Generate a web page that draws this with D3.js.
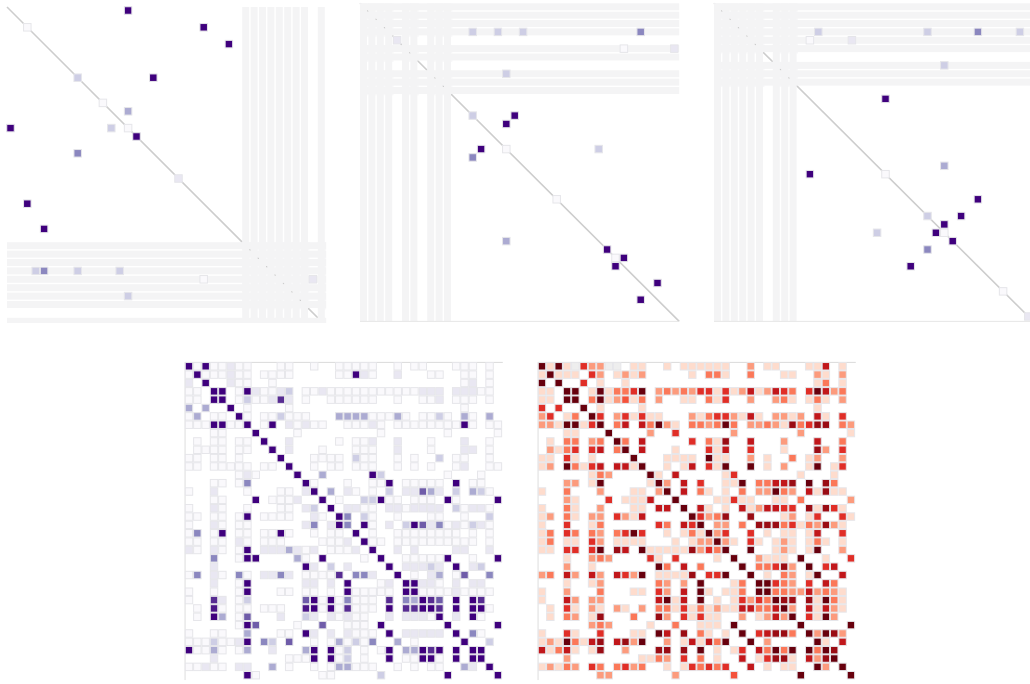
<!DOCTYPE html>
<html>
<head>
<meta charset="utf-8">
<script src="https://cdn.jsdelivr.net/npm/d3@7"></script>
<style>
  html, body { margin: 0; padding: 0; background: #fff; overflow: hidden; }
  svg { display: block; filter: blur(0.45px); }
</style>
</head>
<body>
<svg id="chart" width="1030" height="684"></svg>
<script>
const N = 38;

// sparse matrices: [row, col, level]
const cellsA = [
  [0,14,9],[2,2,1],[2,23,9],[4,26,9],[8,8,3],[8,17,9],[11,11,1],[12,14,4],[14,0,9],[14,12,3],[14,14,1],
  [15,15,9],[17,8,5],[20,20,2],[23,2,9],[26,4,9],[31,3,3],[31,4,5],[31,8,3],[31,13,3],[32,23,1],[32,36,2],[34,14,3]
];
const cellsB = [
  [3,13,3],[3,16,3],[3,19,3],[3,33,5],[4,4,2],[5,31,1],[5,37,2],[8,17,3],[13,13,3],[13,18,9],[14,17,9],
  [17,14,9],[17,17,1],[17,28,3],[18,13,5],[23,23,1],[28,17,4],[29,29,9],[30,30,1],[30,31,9],[31,30,9],[33,35,9],[35,33,9]
];
const cellsC = [
  [3,12,3],[3,25,3],[3,31,5],[3,36,3],[4,11,1],[4,16,2],[7,27,3],[11,20,9],[19,27,4],[20,11,9],[20,20,1],
  [23,31,9],[25,25,3],[25,29,9],[26,27,9],[27,26,9],[27,27,1],[27,19,3],[28,28,9],[29,25,5],[31,23,9],[34,34,1],[37,37,2]
];

// rows/cols with no data, shown as grey bands
const blankA = [28,29,30,31,32,33,34,35,37];
const blankB = [0,1,2,3,5,6,8,9,10];
const blankC = [0,1,2,3,4,5,7,8,9];

// dense matrices, one char per col, '.' = no cell, g = grey, split at col 19
const rowsD = [
  "91911211...11..1..1 1111..1.11...111.1.",
  "19111211.1111.....1 1921..2...11..11.1.",
  "2.9..211..1........ ..............12.1.",
  "11.99.1921123.11211 111111111222.22211.",
  "11.99.1311272.1..11 1111..1..112.111.1.",
  "4.4..9.1....1...... ..............1....",
  "14.11.91.113111...4 44411141.1131.41.4.",
  "11199119.19.21211.. 11121.1111111191.11",
  "...11...9....1..... ....1.......1.....1",
  ".1.11.11.9..2.....1 .112..2...1...2..1.",
  ".1111.11..9.2...1.. .111..2...1...22.1.",
  "11.11.1....9...1111 .311..1.1..3.11..1.",
  "11.11111.11.9..1.11 .111..1.1.1..12..11",
  "......121....9..4.. ...93.......1...1..",
  "...11.15......91... 1..119.11111.9.11..",
  "1..2...1...11.29.4. 21.1.3.22642.3.431.",
  "...11...9.1112..9.1 ..33911.111.91....9",
  "1..21..1...11.23.9. 2211.2212222.31221.",
  "11.11.19.1111..21.9 5.31..1...11..1..3.",
  "1..21.11......25.29 5.91.2.39625121321.",
  "15.19.11.1191..1.11 .9.1..11111111.1.1.",
  "11.11.21.111....111 2.911.1111111111.1.",
  "21.21.19.2224212.11 12.9..2.2....22..2.",
  "...5..199....41.9.. ..1.9..111119..1..9",
  "...2..........92.3. 2....9.22232.9.23..",
  "15.21.51.2252.11117 .552..9.1.24.16..5.",
  "...2..19......22.2. 9...12.99221.2.22..",
  "1..1..19...11.11.1. 911111.99111121111.",
  "1..72.13......69191 5111.7.54976.9.97..",
  ".1.81.11.111..89191 7111.9.77997.9.991.",
  ".1.94.16...2..32.21 211..2.22219.2.91..",
  "......196....1..6.. 111.9.......9.....9",
  "1..11..4...11.92.2. 2111.9.22222.9.51..",
  "11131129.53.6..1.14 1315..4.1.....9..3.",
  "91141.14..2...49.91 3.1.19.44979.9.99..",
  "...2........1119.91 3.1..9.11991.9.99..",
  "11211.22..4.1..1.14 4111..1.1.11..42.9.",
  ".......91.......11. ....3.......9.....9"
];
const rowsE = [
  "9191g633gg.11..1.11 1111..3.11...117.1.",
  "19111.63.1313.....1 .441..4...11..31.3.",
  "9.9..6.1..1........ ..............14.1.",
  "11.99.1914469.34343 661613713764.69734.",
  "11.99.4913514.3..11 .416..3..341.141.3.",
  "6.6..9.1....1...... ..............1....",
  "36.14.96.361611...3 14663171.3313.71.6.",
  "33199169.47.74931.4 43494.3343184688.43",
  "...11...9....3..6.. ....3.......3.....1",
  ".1.44.34.94.7.....6 .418..7...3...7..4.",
  ".3146.67.49.7...1.. .617..6...1...83.6.",
  "11.61.1....9...1111 .911..3.1..4.13..3.",
  "13.94167.7719..1.17 .619..9.1.3..19.16.",
  "......143....91.7.. ...16.......1...1..",
  "...33.19.....193.7. 6..119.44778.9.84..",
  "1..4...3...11.39.7. 41.1.4.33943.71811.",
  "...31...6.1117..9.. ..11611..11.4.....3",
  "1..41..3...11.77.9. 71.1.7137766.81861.",
  "13.41.33.6317.....9 6348..8...13.16..61",
  "1..6..14......64.76 9.33.4.88846143831.",
  "14.64.43.4696..1.14 1936..6.1.11.17..6.",
  "14.11.63.1111...1.1 33931.61.131.141.1.",
  "11.66.69.87.9111118 3649..9..131.19..3.",
  "...1..343....61.6.. ..1.9..3111.9..1..6",
  "...3..1.......94.7. 4....9.44683.9.67..",
  "34.73.73.7639.11118 .669..9.1.43.19..7.",
  "...1..13......43.3. 9...14.99643.6.74..",
  "1..3...4...11.63.7. 91.114.99443373431.",
  "1..73.33......7917. 9.1.16364988.81941.",
  ".1.61.31.31.3.44161 413117744793.71731.",
  ".1.43.18...4..83.61 611..3.13739.6193..",
  "......343....1..4.. 111.9.......9.....9",
  "1..61..6...11.97.8. 41.1.9.67884.93983.",
  "13194178.7839..3.17 1749..9.3.....91.7.",
  "71471.18..3...88.8. 9.1.16.74949.9498..",
  "...3........1143.6. 4.1..7.16881.7389..",
  "13143.64.4634..1.16 4646..7.1.11..93.9.",
  ".......33.......3.. ....5.......9.....9"
];

const strokeColor = '#e6e6ea';
const stripeColor = '#f4f4f5';
const crossColor = '#f8f8f9';
const diagColor = '#cdcdcd';

const purpleLevel = d3.scaleLinear().domain([1, 5, 7, 9]).range([0.02, 0.58, 0.86, 1]);
const redLevel = d3.scaleLinear().domain([1, 9]).range([0.13, 1]);

const svg = d3.select('#chart');

function parseRows(rows) {
  const cells = [];
  rows.forEach((row, r) => {
    const chars = row.replace(' ', '');
    for (let c = 0; c < chars.length; c++) {
      if (chars[c] === '.') continue;
      cells.push([r, c, chars[c] === 'g' ? 0 : +chars[c]]);
    }
  });
  return cells;
}

function drawMatrix(id, cells, o) {
  const x = d3.scaleBand().domain(d3.range(N)).range([o.x, o.x + N * o.stepX]);
  const y = d3.scaleBand().domain(d3.range(N)).range([o.y, o.y + N * o.stepY]);
  const w = x.bandwidth() - 1.4;
  const h = y.bandwidth() - 1.4;

  svg.append('clipPath').attr('id', id)
    .append('rect')
    .attr('x', o.x - 1).attr('y', o.y - 1)
    .attr('width', N * o.stepX + 2).attr('height', o.clipH + 1);

  const g = svg.append('g').attr('clip-path', `url(#${id})`);

  // a) axis hairlines
  if (o.frame) {
    g.append('path')
      .attr('d', `M${o.x - 0.6},${o.y + N * o.stepY}V${o.y - 0.6}H${o.x + N * o.stepX}`)
      .attr('fill', 'none').attr('stroke', '#cfcfcf').attr('stroke-width', 1);
  }
  if (o.baseline) {
    svg.append('line')
      .attr('x1', o.x).attr('x2', o.x + N * o.stepX)
      .attr('y1', o.y + N * o.stepY).attr('y2', o.y + N * o.stepY)
      .attr('stroke', '#e6e6e6').attr('stroke-width', 1);
  }

  // b) blank x blank block, gaps are almost closed there
  const blank = o.blank || [];
  const cross = d3.cross(blank, blank);
  g.selectAll('.cross').data(cross).join('rect')
    .attr('class', 'cross')
    .attr('x', d => x(d[1])).attr('y', d => y(d[0]))
    .attr('width', x.bandwidth()).attr('height', y.bandwidth())
    .attr('fill', crossColor);

  // c) diagonal, the bands cover it
  if (o.diagonal) {
    g.append('line')
      .attr('x1', o.x).attr('y1', o.y)
      .attr('x2', o.x + N * o.stepX).attr('y2', o.y + N * o.stepY)
      .attr('stroke', diagColor).attr('stroke-width', 1.6);
  }

  // d) grey bands
  g.selectAll('.band-col').data(blank).join('rect')
    .attr('class', 'band-col')
    .attr('x', d => x(d)).attr('y', o.y)
    .attr('width', w).attr('height', N * o.stepY)
    .attr('fill', stripeColor);
  g.selectAll('.band-row').data(blank).join('rect')
    .attr('class', 'band-row')
    .attr('x', o.x).attr('y', d => y(d))
    .attr('width', N * o.stepX).attr('height', h)
    .attr('fill', stripeColor);

  // e) cells, strokes close the gap between neighbours
  g.selectAll('.cell').data(cells).join('rect')
    .attr('class', 'cell')
    .attr('x', d => x(d[1]) - 0.25).attr('y', d => y(d[0]) - 0.25)
    .attr('width', w + 0.5).attr('height', h + 0.5)
    .attr('fill', d => d[2] === 0 ? '#eeeeee' : o.color(o.level(d[2])))
    .attr('stroke', strokeColor).attr('stroke-width', 1);
}

drawMatrix('mA', cellsA, { x: 7, y: 7, stepX: 8.4, stepY: 8.4, clipH: 316, blank: blankA, diagonal: true, color: d3.interpolatePurples, level: purpleLevel });
drawMatrix('mB', cellsB, { x: 360, y: 3.3, stepX: 8.4, stepY: 8.37, clipH: 320, blank: blankB, diagonal: true, baseline: true, color: d3.interpolatePurples, level: purpleLevel });
drawMatrix('mC', cellsC, { x: 714, y: 3.3, stepX: 8.4, stepY: 8.37, clipH: 320, blank: blankC, diagonal: true, baseline: true, color: d3.interpolatePurples, level: purpleLevel });
drawMatrix('mD', parseRows(rowsD), { x: 185.5, y: 362.8, stepX: 8.35, stepY: 8.35, clipH: 322, frame: true, color: d3.interpolatePurples, level: purpleLevel });
drawMatrix('mE', parseRows(rowsE), { x: 538.5, y: 362.8, stepX: 8.35, stepY: 8.35, clipH: 322, frame: true, color: d3.interpolateReds, level: redLevel });
</script>
</body>
</html>
